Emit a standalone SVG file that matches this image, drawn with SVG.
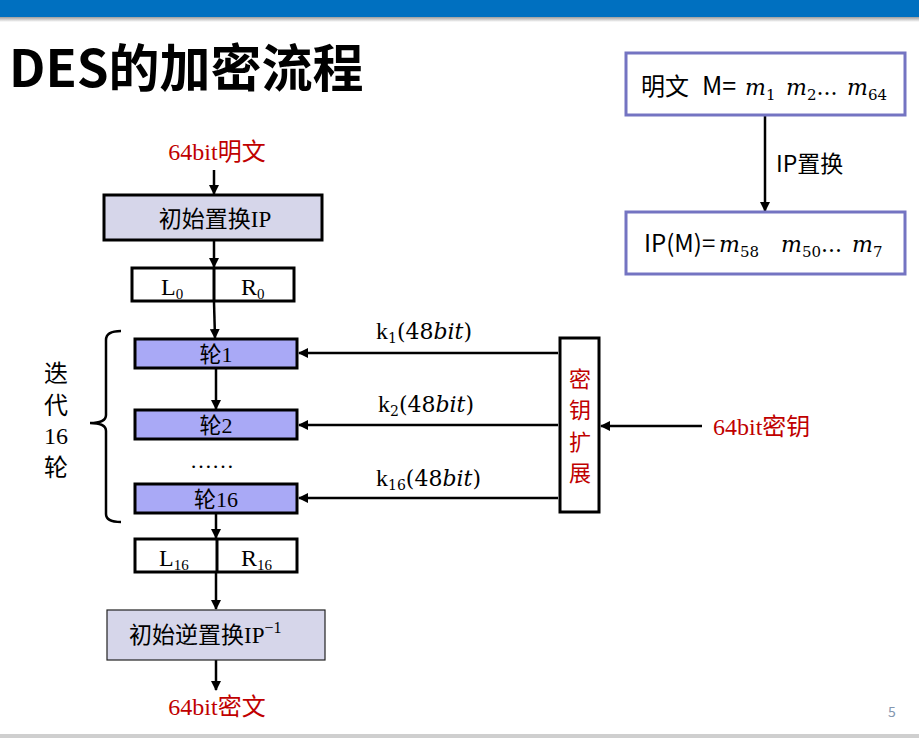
<svg xmlns="http://www.w3.org/2000/svg" width="919" height="738" viewBox="0 0 919 738">
  <style>
    .sans { font-family: "Noto Sans CJK SC", "Noto Sans", sans-serif; }
    .serif { font-family: "Liberation Serif", "Noto Sans CJK SC", serif; }
    .dv { font-family: "DejaVu Serif", "Liberation Serif", serif; }
    .math { font-family: "DejaVu Serif", "Liberation Serif", serif; font-style: italic; }
    .red { fill: #c00000; }
    .flow { fill: #d6d6ea; stroke: #000; stroke-width: 3; }
    .round { fill: #a9a9f6; stroke: #000; stroke-width: 3; }
    .half { fill: #fff; stroke: #000; stroke-width: 3; }
    .map { fill: #fff; stroke: #7474c2; stroke-width: 3; }
    .wire { stroke: #000; stroke-width: 2.5; fill: none; }
  </style>
  <defs>
    <marker id="arrow" viewBox="0 0 10 10" refX="9" refY="5" markerWidth="4" markerHeight="4" orient="auto" markerUnits="strokeWidth">
      <path d="M0,0 L10,5 L0,10 z" fill="#000"/>
    </marker>
    <linearGradient id="shade" x1="0" y1="0" x2="0" y2="1">
      <stop offset="0" stop-color="#8a8a8a"/>
      <stop offset="1" stop-color="#ffffff"/>
    </linearGradient>
  </defs>

  <!-- page frame -->
  <rect x="0" y="0" width="919" height="738" fill="#fff"/>
  <rect x="0" y="16" width="919" height="6" fill="url(#shade)"/>
  <rect x="0" y="0" width="919" height="17" fill="#0070c0"/>
  <rect x="0" y="734" width="919" height="4" fill="#cfcfcf"/>
  <text x="888" y="717" class="sans" font-size="14" fill="#8497b0">5</text>

  <!-- title -->
  <text x="9" y="87" class="sans" font-size="51" font-weight="bold" fill="#000">DES的加密流程</text>

  <!-- connectors -->
  <g id="connectors">
    <line class="wire" x1="214" y1="170" x2="214" y2="194" marker-end="url(#arrow)"/>
    <line class="wire" x1="214" y1="240" x2="214" y2="267" marker-end="url(#arrow)"/>
    <line class="wire" x1="214" y1="302" x2="215" y2="338" marker-end="url(#arrow)"/>
    <line class="wire" x1="216" y1="368" x2="216" y2="409" marker-end="url(#arrow)"/>
    <line class="wire" x1="216" y1="513" x2="216" y2="538" marker-end="url(#arrow)"/>
    <line class="wire" x1="216" y1="573" x2="216" y2="609" marker-end="url(#arrow)"/>
    <line class="wire" x1="216" y1="660" x2="216" y2="690" marker-end="url(#arrow)"/>
    <line class="wire" x1="558" y1="353" x2="299" y2="353" marker-end="url(#arrow)"/>
    <line class="wire" x1="558" y1="425" x2="299" y2="425" marker-end="url(#arrow)"/>
    <line class="wire" x1="558" y1="498" x2="299" y2="498" marker-end="url(#arrow)"/>
    <line class="wire" x1="702" y1="426" x2="601" y2="426" marker-end="url(#arrow)"/>
    <line class="wire" x1="765" y1="115" x2="765" y2="211" marker-end="url(#arrow)"/>
    <!-- round brace -->
    <path class="wire" stroke-width="3" d="M121,331 Q106,331 106,340 L106,415 Q106,423 90,423 Q106,423 106,431 L106,514 Q106,522 121,522"/>
  </g>

  <!-- plaintext input -->
  <g id="plain-in">
    <text x="217" y="160" class="serif red" font-size="24" text-anchor="middle">64bit明文</text>
  </g>

  <g id="ip">
    <rect class="flow" x="104" y="195" width="218" height="45"/>
    <text x="215" y="227" class="serif" font-size="23" text-anchor="middle">初始置换IP</text>
  </g>

  <g id="l0r0">
    <rect class="half" x="132" y="268" width="162" height="33"/>
    <line x1="214" y1="268" x2="214" y2="301" stroke="#000" stroke-width="3"/>
    <text x="161" y="295" class="serif" font-size="24">L<tspan font-size="15" dy="4">0</tspan></text>
    <text x="241" y="295" class="serif" font-size="24">R<tspan font-size="15" dy="4">0</tspan></text>
  </g>

  <g id="iter-label" class="serif" font-size="24" text-anchor="middle">
    <text x="56" y="382">迭</text>
    <text x="56" y="414">代</text>
    <text x="56" y="444">16</text>
    <text x="56" y="476">轮</text>
  </g>

  <g id="round1">
    <rect class="round" x="135" y="339" width="162" height="29"/>
    <text x="216" y="362" class="serif" font-size="22" text-anchor="middle">轮1</text>
  </g>
  <g id="round2">
    <rect class="round" x="135" y="410" width="162" height="29"/>
    <text x="216" y="433" class="serif" font-size="22" text-anchor="middle">轮2</text>
  </g>
  <text x="212" y="468" class="serif" font-size="22" text-anchor="middle">……</text>
  <g id="round16">
    <rect class="round" x="135" y="484" width="162" height="29"/>
    <text x="216" y="507" class="serif" font-size="22" text-anchor="middle">轮16</text>
  </g>

  <g id="l16r16">
    <rect class="half" x="135" y="539" width="162" height="33"/>
    <line x1="217" y1="539" x2="217" y2="572" stroke="#000" stroke-width="3"/>
    <text x="159" y="566" class="serif" font-size="24">L<tspan font-size="15" dy="4">16</tspan></text>
    <text x="241" y="566" class="serif" font-size="24">R<tspan font-size="15" dy="4">16</tspan></text>
  </g>

  <g id="ip-inverse">
    <rect x="107" y="610" width="218" height="50" fill="#d6d6ea" stroke="#222" stroke-width="1.2"/>
    <text x="129" y="643" class="serif" font-size="23">初始逆置换IP<tspan font-size="16" dy="-10">−1</tspan></text>
  </g>

  <g id="cipher-out">
    <text x="217" y="715" class="serif red" font-size="24" text-anchor="middle">64bit密文</text>
  </g>

  <!-- subkey labels -->
  <g id="subkeys" class="dv" font-size="22">
    <text x="376" y="339"><tspan class="serif" font-size="24">k</tspan><tspan font-size="14" dy="4">1</tspan><tspan dy="-4">(48</tspan><tspan class="math">bit</tspan>)</text>
    <text x="378" y="412"><tspan class="serif" font-size="24">k</tspan><tspan font-size="14" dy="4">2</tspan><tspan dy="-4">(48</tspan><tspan class="math">bit</tspan>)</text>
    <text x="376" y="486"><tspan class="serif" font-size="24">k</tspan><tspan font-size="14" dy="4">16</tspan><tspan dy="-4">(48</tspan><tspan class="math">bit</tspan>)</text>
  </g>

  <g id="key-schedule">
    <rect class="half" x="560" y="338" width="39" height="174"/>
    <g class="serif red" font-size="22" text-anchor="middle">
      <text x="580" y="387">密</text>
      <text x="580" y="418">钥</text>
      <text x="580" y="450">扩</text>
      <text x="580" y="481">展</text>
    </g>
  </g>

  <g id="key-in">
    <text x="713" y="435" class="serif red" font-size="24">64bit密钥</text>
  </g>

  <!-- permutation example -->
  <g id="plain-m">
    <rect class="map" x="626" y="53" width="279" height="62"/>
    <text x="641" y="95" class="sans" font-size="24">明文</text>
    <text x="702" y="95" class="sans" font-size="25">M=</text>
    <text x="745" y="95" class="math" font-size="22">m<tspan class="dv" font-style="normal" font-size="15" dy="5">1</tspan></text>
    <text x="786" y="95" class="math" font-size="22">m<tspan class="dv" font-style="normal" font-size="15" dy="5">2</tspan><tspan class="dv" font-style="normal" dy="-5">...</tspan></text>
    <text x="847" y="95" class="math" font-size="22">m<tspan class="dv" font-style="normal" font-size="15" dy="5">64</tspan></text>
  </g>

  <g id="permute-label">
    <text x="776" y="172" class="sans" font-size="23">IP置换</text>
  </g>

  <g id="ip-m">
    <rect class="map" x="626" y="212" width="279" height="62"/>
    <text x="644" y="252" class="sans" font-size="24">IP(M)=</text>
    <text x="719" y="252" class="math" font-size="22">m<tspan class="dv" font-style="normal" font-size="15" dy="5">58</tspan></text>
    <text x="781" y="252" class="math" font-size="22">m<tspan class="dv" font-style="normal" font-size="15" dy="5">50</tspan><tspan class="dv" font-style="normal" dy="-5">...</tspan></text>
    <text x="852" y="252" class="math" font-size="22">m<tspan class="dv" font-style="normal" font-size="15" dy="5">7</tspan></text>
  </g>
</svg>
